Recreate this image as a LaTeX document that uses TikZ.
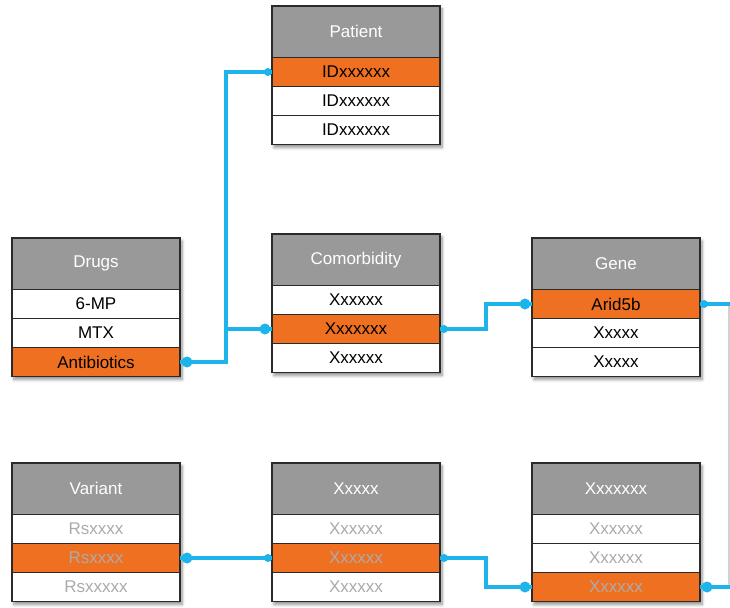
\documentclass[tikz,border=0pt]{standalone}
\usepackage{fontspec}
\setmainfont{Liberation Sans}
\usetikzlibrary{shadows.blur,calc}
\definecolor{hdrgray}{HTML}{999999}
\definecolor{hotorange}{HTML}{F07022}
\definecolor{linkblue}{HTML}{1CB4EA}
\definecolor{lighttext}{HTML}{ABABAB}
\definecolor{edge}{HTML}{2A2A2A}
\tikzset{
  frame/.style={anchor=north west, minimum width=168pt, minimum height=138.5pt, inner sep=0pt, outer sep=0pt,
    fill=white, blur shadow={shadow xshift=2pt, shadow yshift=-3pt, shadow blur steps=6, shadow opacity=45, shadow blur radius=3pt}},
  hdr/.style={minimum width=168pt, minimum height=51.5pt, inner sep=0pt, outer sep=0pt, fill=hdrgray, draw=edge, line width=0.8pt, text=white},
  cell/.style={minimum width=168pt, minimum height=29pt, inner sep=0pt, outer sep=0pt, draw=edge, line width=0.8pt},
  plain/.style={fill=white, text=black},
  hot/.style={fill=hotorange, text=black},
  plainlt/.style={fill=white, text=lighttext},
  hotlt/.style={fill=hotorange, text=lighttext},
  border/.style={draw=edge, line width=1.3pt},
  conn/.style={draw=linkblue, line width=3.5pt},
  bigdot/.style={fill=linkblue, draw=none},
}
\newcommand\ertable[9]{%
  \node[frame] (#1) at #2 {};
  \node[hdr, anchor=north] (#1-h) at (#1.north) {#3};
  \node[cell,#4,anchor=north] (#1-1) at (#1-h.south) {#5};
  \node[cell,#6,anchor=north] (#1-2) at (#1-1.south) {#7};
  \node[cell,#8,anchor=north] (#1-3) at (#1-2.south) {#9};
  \draw[border] (#1.north west) rectangle (#1.south east);
}
\begin{document}
\begin{tikzpicture}[x=1pt,y=-1pt,font=\fontsize{17}{20}\selectfont]
\useasboundingbox (0,0) rectangle (730,607);
% tables
\ertable{pat}{(272,6)}{Patient}{hot}{IDxxxxxx}{plain}{IDxxxxxx}{plain}{IDxxxxxx}
\ertable{drg}{(12,238)}{Drugs}{plain}{6-MP}{plain}{MTX}{hot}{Antibiotics}
\ertable{com}{(272,234)}{Comorbidity}{plain}{Xxxxxx}{hot}{Xxxxxxx}{plain}{Xxxxxx}
\ertable{gen}{(532,238)}{Gene}{hot}{Arid5b}{plain}{Xxxxx}{plain}{Xxxxx}
\ertable{var}{(12,463)}{Variant}{plainlt}{Rsxxxx}{hotlt}{Rsxxxx}{plainlt}{Rsxxxxx}
\ertable{xf}{(272,463)}{Xxxxx}{plainlt}{Xxxxxx}{hotlt}{Xxxxxx}{plainlt}{Xxxxxx}
\ertable{xs}{(532,463)}{Xxxxxxx}{plainlt}{Xxxxxx}{plainlt}{Xxxxxx}{hotlt}{Xxxxxx}
% connectors
\draw[draw=black!18, line width=1.2pt] (729,304) -- (729,587);
\draw[conn] (drg-3.east) -- ++(46,0) |- (pat-1.west);
\coordinate (j1) at (226,329);
\draw[conn] (j1) -- (com-2.west);
\draw[conn] (com-2.east) -- ++(46,0) |- (gen-1.west);
\draw[conn] (gen-1.east) -- ++(42,0) |- (xs-3.east);
\draw[conn] (var-2.east) -- (xf-2.west);
\draw[conn] (xf-2.east) -- ++(46,0) |- (xs-3.west);
% end dots
\fill[bigdot] ($(drg-3.east)+(7,0)$) circle (5.5pt);
\fill[bigdot] ($(pat-1.west)+(-4,0)$) circle (4pt);
\fill[bigdot] ($(com-2.west)+(-7,0)$) circle (5.5pt);
\fill[bigdot] ($(com-2.east)+(4,0)$) circle (4pt);
\fill[bigdot] ($(gen-1.west)+(-7,0)$) circle (5.5pt);
\fill[bigdot] ($(gen-1.east)+(4,0)$) circle (4pt);
\fill[bigdot] ($(var-2.east)+(7,0)$) circle (5.5pt);
\fill[bigdot] ($(xf-2.west)+(-4,0)$) circle (4pt);
\fill[bigdot] ($(xf-2.east)+(4,0)$) circle (4pt);
\fill[bigdot] ($(xs-3.west)+(-7,0)$) circle (5.5pt);
\fill[bigdot] ($(xs-3.east)+(7,0)$) circle (5.5pt);
\end{tikzpicture}
\end{document}
